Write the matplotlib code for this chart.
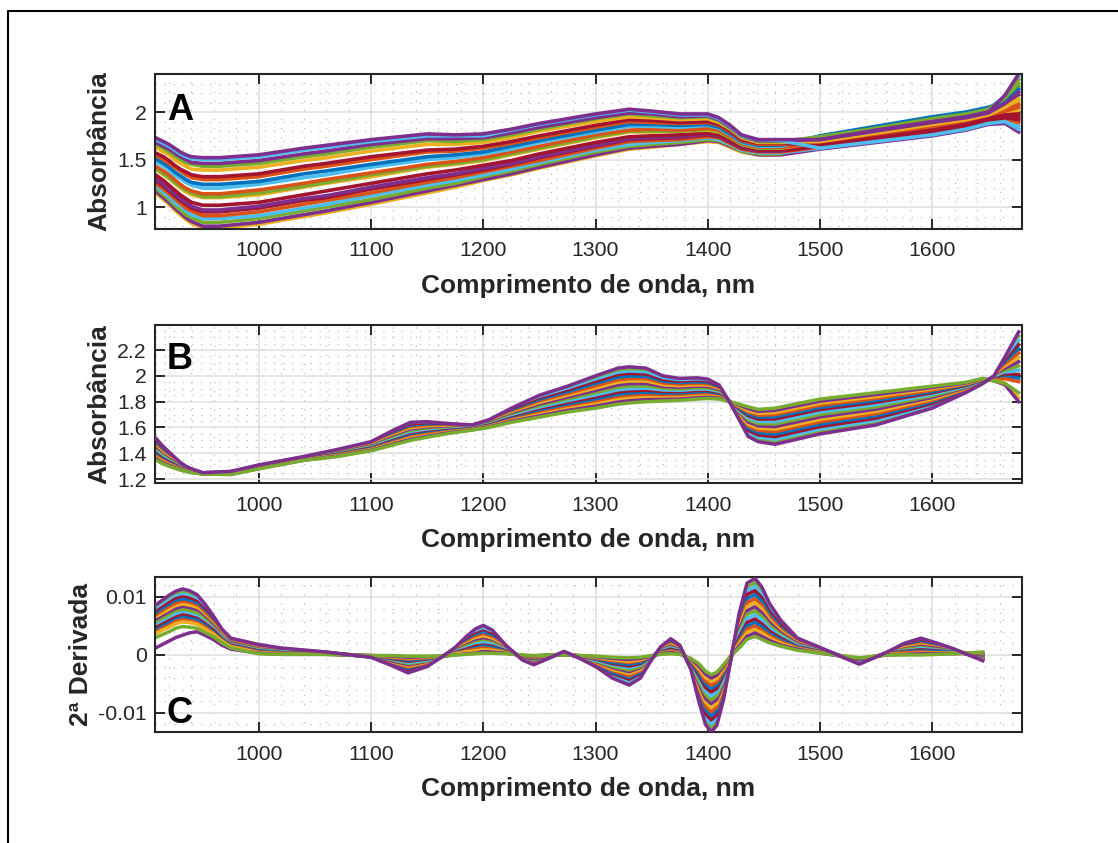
import numpy as np
import matplotlib
matplotlib.use("Agg")
import matplotlib.pyplot as plt
from matplotlib.lines import Line2D
from matplotlib.ticker import MultipleLocator, FixedLocator

plt.rcParams['font.family'] = ['Liberation Sans', 'DejaVu Sans']

# colours of the plot
blue = "#0072BD"
orange = "#D95319"
yellow = "#EDB120"
purple = "#7E2F8E"
green = "#77AC30"
lightblue = "#4DBEEE"
red = "#A2142F"

# panel A, one row per wavelength, one column per spectrum
# --------------------------------------------------------
nm_a = [908, 915, 920, 925, 930, 935, 940, 950, 965, 1000, 1040, 1060, 1100, 1150, 1175, 1200, 1225, 1250,
        1300, 1330, 1350, 1375, 1400, 1410, 1420, 1430, 1445, 1465, 1500, 1550, 1600, 1630, 1650, 1665, 1677]
spectra_a = [
    [1.73, 1.71, 1.68, 1.66, 1.63, 1.57, 1.55, 1.51, 1.48, 1.43, 1.41, 1.40, 1.34, 1.30, 1.28, 1.25, 1.23, 1.20, 1.17, 1.15],
    [1.69, 1.67, 1.64, 1.62, 1.58, 1.53, 1.50, 1.46, 1.43, 1.38, 1.35, 1.34, 1.28, 1.24, 1.22, 1.19, 1.16, 1.13, 1.10, 1.08],
    [1.66, 1.64, 1.61, 1.58, 1.55, 1.49, 1.46, 1.42, 1.39, 1.34, 1.31, 1.30, 1.23, 1.19, 1.17, 1.14, 1.11, 1.08, 1.05, 1.03],
    [1.62, 1.60, 1.57, 1.54, 1.50, 1.44, 1.42, 1.37, 1.34, 1.29, 1.26, 1.25, 1.18, 1.14, 1.12, 1.09, 1.05, 1.02, 0.99, 0.97],
    [1.58, 1.56, 1.53, 1.50, 1.46, 1.40, 1.38, 1.33, 1.30, 1.24, 1.22, 1.20, 1.13, 1.09, 1.07, 1.04, 1.01, 0.97, 0.94, 0.92],
    [1.55, 1.53, 1.50, 1.47, 1.43, 1.37, 1.34, 1.29, 1.26, 1.20, 1.18, 1.16, 1.09, 1.05, 1.03, 0.99, 0.96, 0.92, 0.89, 0.87],
    [1.53, 1.51, 1.47, 1.45, 1.40, 1.34, 1.31, 1.26, 1.23, 1.17, 1.15, 1.13, 1.05, 1.01, 0.99, 0.96, 0.92, 0.89, 0.85, 0.83],
    [1.52, 1.50, 1.46, 1.43, 1.39, 1.32, 1.29, 1.24, 1.20, 1.14, 1.11, 1.10, 1.02, 0.97, 0.95, 0.91, 0.88, 0.84, 0.80, 0.78],
    [1.52, 1.50, 1.46, 1.43, 1.39, 1.32, 1.29, 1.24, 1.20, 1.14, 1.11, 1.10, 1.02, 0.97, 0.95, 0.91, 0.88, 0.84, 0.80, 0.78],
    [1.55, 1.53, 1.49, 1.46, 1.42, 1.35, 1.32, 1.27, 1.24, 1.18, 1.15, 1.13, 1.05, 1.01, 0.99, 0.95, 0.91, 0.88, 0.84, 0.82],
    [1.62, 1.60, 1.56, 1.53, 1.49, 1.43, 1.40, 1.35, 1.31, 1.25, 1.22, 1.21, 1.13, 1.09, 1.07, 1.03, 0.99, 0.96, 0.92, 0.90],
    [1.65, 1.63, 1.59, 1.56, 1.52, 1.46, 1.43, 1.38, 1.34, 1.29, 1.26, 1.25, 1.17, 1.12, 1.10, 1.07, 1.03, 1.00, 0.96, 0.94],
    [1.71, 1.69, 1.66, 1.63, 1.59, 1.53, 1.50, 1.45, 1.42, 1.36, 1.34, 1.32, 1.25, 1.21, 1.19, 1.15, 1.12, 1.08, 1.05, 1.03],
    [1.77, 1.75, 1.72, 1.70, 1.66, 1.60, 1.58, 1.53, 1.50, 1.45, 1.43, 1.42, 1.35, 1.31, 1.29, 1.26, 1.23, 1.20, 1.17, 1.15],
    [1.76, 1.75, 1.72, 1.69, 1.66, 1.61, 1.59, 1.55, 1.52, 1.48, 1.46, 1.45, 1.39, 1.35, 1.34, 1.31, 1.28, 1.25, 1.23, 1.21],
    [1.77, 1.75, 1.73, 1.71, 1.68, 1.64, 1.62, 1.58, 1.56, 1.52, 1.50, 1.49, 1.44, 1.41, 1.39, 1.37, 1.34, 1.32, 1.29, 1.28],
    [1.82, 1.81, 1.78, 1.76, 1.73, 1.69, 1.67, 1.64, 1.61, 1.58, 1.56, 1.55, 1.49, 1.46, 1.45, 1.43, 1.40, 1.38, 1.35, 1.34],
    [1.88, 1.87, 1.84, 1.82, 1.80, 1.75, 1.73, 1.70, 1.68, 1.64, 1.62, 1.61, 1.56, 1.53, 1.52, 1.49, 1.47, 1.45, 1.42, 1.41],
    [1.98, 1.97, 1.94, 1.93, 1.90, 1.86, 1.84, 1.81, 1.79, 1.76, 1.74, 1.73, 1.68, 1.65, 1.64, 1.62, 1.60, 1.58, 1.55, 1.54],
    [2.03, 2.02, 1.99, 1.98, 1.95, 1.92, 1.90, 1.87, 1.85, 1.81, 1.80, 1.79, 1.74, 1.72, 1.71, 1.69, 1.66, 1.64, 1.62, 1.61],
    [2.01, 2.00, 1.98, 1.96, 1.94, 1.91, 1.89, 1.87, 1.85, 1.82, 1.80, 1.79, 1.75, 1.73, 1.72, 1.70, 1.68, 1.66, 1.64, 1.63],
    [1.98, 1.97, 1.95, 1.94, 1.92, 1.89, 1.88, 1.86, 1.84, 1.81, 1.80, 1.80, 1.76, 1.74, 1.73, 1.71, 1.70, 1.68, 1.66, 1.66],
    [1.98, 1.97, 1.96, 1.95, 1.93, 1.90, 1.89, 1.87, 1.86, 1.83, 1.82, 1.81, 1.78, 1.77, 1.76, 1.74, 1.73, 1.71, 1.70, 1.69],
    [1.94, 1.93, 1.92, 1.91, 1.89, 1.87, 1.86, 1.84, 1.83, 1.81, 1.80, 1.79, 1.76, 1.75, 1.74, 1.73, 1.71, 1.70, 1.69, 1.68],
    [1.86, 1.85, 1.84, 1.83, 1.82, 1.80, 1.79, 1.77, 1.76, 1.74, 1.73, 1.73, 1.70, 1.69, 1.68, 1.67, 1.66, 1.65, 1.64, 1.63],
    [1.76, 1.75, 1.75, 1.74, 1.73, 1.71, 1.70, 1.69, 1.68, 1.67, 1.66, 1.66, 1.64, 1.63, 1.62, 1.61, 1.60, 1.59, 1.59, 1.58],
    [1.71, 1.71, 1.70, 1.69, 1.68, 1.67, 1.66, 1.65, 1.64, 1.63, 1.62, 1.62, 1.60, 1.59, 1.59, 1.58, 1.57, 1.56, 1.55, 1.55],
    [1.71, 1.70, 1.70, 1.69, 1.68, 1.67, 1.66, 1.65, 1.64, 1.63, 1.62, 1.62, 1.60, 1.59, 1.59, 1.58, 1.57, 1.56, 1.55, 1.55],
    [1.71, 1.62, 1.71, 1.74, 1.69, 1.65, 1.68, 1.75, 1.74, 1.67, 1.73, 1.68, 1.65, 1.70, 1.64, 1.63, 1.62, 1.72, 1.61, 1.66],
    [1.81, 1.69, 1.80, 1.83, 1.78, 1.73, 1.76, 1.85, 1.84, 1.75, 1.82, 1.77, 1.72, 1.79, 1.72, 1.71, 1.70, 1.81, 1.68, 1.74],
    [1.90, 1.76, 1.89, 1.93, 1.87, 1.81, 1.84, 1.95, 1.94, 1.83, 1.92, 1.86, 1.80, 1.88, 1.79, 1.78, 1.77, 1.91, 1.75, 1.82],
    [1.95, 1.82, 1.94, 1.98, 1.92, 1.87, 1.90, 2.00, 1.99, 1.89, 1.97, 1.91, 1.86, 1.93, 1.85, 1.84, 1.83, 1.96, 1.81, 1.88],
    [2.00, 1.88, 1.99, 2.03, 1.97, 1.93, 1.96, 2.05, 2.04, 1.95, 2.02, 1.96, 1.92, 1.98, 1.91, 1.90, 1.89, 2.01, 1.87, 1.94],
    [2.18, 1.90, 2.09, 2.15, 2.05, 1.97, 2.02, 2.10, 2.16, 2.01, 2.13, 2.04, 1.96, 2.07, 1.94, 1.93, 1.91, 2.12, 1.88, 1.99],
    [2.40, 1.82, 2.21, 2.34, 2.14, 1.98, 2.08, 2.24, 2.37, 2.05, 2.30, 2.11, 1.95, 2.18, 1.92, 1.89, 1.85, 2.27, 1.79, 2.01],
]
colors_a = [purple, lightblue, purple, green, yellow, red, orange, blue, lightblue, orange,
            green, yellow, red, purple, red, orange, lightblue, green, purple, yellow]

# panel B, absorbance x 1000, one row per wavelength
# --------------------------------------------------
nm_b = [908, 914, 920, 925, 930, 935, 940, 950, 975, 1000, 1040, 1070, 1100, 1120, 1135, 1150, 1170, 1190,
        1205, 1225, 1250, 1275, 1300, 1320, 1330, 1345, 1360, 1375, 1390, 1400, 1410, 1420, 1428, 1436, 1445,
        1460, 1500, 1550, 1600, 1630, 1645, 1655, 1665, 1677]
spectra_b = [
    [1520, 1508, 1496, 1484, 1472, 1461, 1449, 1437, 1425, 1413, 1401, 1391, 1381, 1370, 1360, 1350],
    [1460, 1450, 1440, 1431, 1421, 1411, 1401, 1391, 1382, 1372, 1362, 1354, 1345, 1337, 1328, 1320],
    [1410, 1402, 1395, 1387, 1379, 1372, 1364, 1356, 1348, 1341, 1333, 1326, 1320, 1313, 1307, 1300],
    [1370, 1364, 1358, 1352, 1346, 1340, 1334, 1328, 1322, 1316, 1311, 1305, 1300, 1295, 1290, 1285],
    [1330, 1326, 1322, 1317, 1313, 1309, 1305, 1301, 1296, 1292, 1288, 1284, 1281, 1277, 1274, 1270],
    [1300, 1297, 1294, 1292, 1289, 1286, 1283, 1280, 1278, 1275, 1272, 1270, 1267, 1265, 1262, 1260],
    [1280, 1278, 1276, 1274, 1272, 1270, 1267, 1265, 1263, 1261, 1259, 1257, 1255, 1254, 1252, 1250],
    [1250, 1249, 1249, 1248, 1247, 1247, 1246, 1245, 1244, 1244, 1243, 1242, 1242, 1241, 1241, 1240],
    [1260, 1258, 1257, 1255, 1253, 1251, 1250, 1248, 1246, 1244, 1243, 1241, 1240, 1238, 1237, 1235],
    [1310, 1308, 1306, 1304, 1302, 1300, 1297, 1295, 1293, 1291, 1289, 1287, 1285, 1284, 1282, 1280],
    [1375, 1373, 1371, 1369, 1367, 1365, 1362, 1360, 1358, 1356, 1354, 1352, 1350, 1349, 1347, 1345],
    [1430, 1426, 1422, 1418, 1415, 1411, 1407, 1403, 1399, 1395, 1392, 1388, 1385, 1382, 1378, 1375],
    [1490, 1485, 1480, 1475, 1470, 1466, 1461, 1456, 1451, 1446, 1441, 1437, 1433, 1428, 1424, 1420],
    [1580, 1572, 1564, 1556, 1548, 1540, 1532, 1524, 1516, 1508, 1500, 1493, 1486, 1479, 1472, 1465],
    [1640, 1630, 1620, 1611, 1601, 1591, 1581, 1571, 1562, 1552, 1542, 1534, 1525, 1517, 1508, 1500],
    [1645, 1637, 1628, 1620, 1611, 1603, 1595, 1586, 1578, 1569, 1561, 1554, 1547, 1539, 1532, 1525],
    [1630, 1625, 1620, 1614, 1609, 1604, 1599, 1593, 1588, 1583, 1578, 1573, 1569, 1564, 1560, 1555],
    [1620, 1617, 1614, 1612, 1609, 1606, 1603, 1600, 1598, 1595, 1592, 1590, 1587, 1585, 1582, 1580],
    [1660, 1656, 1652, 1647, 1643, 1639, 1635, 1631, 1626, 1622, 1618, 1614, 1611, 1607, 1604, 1600],
    [1750, 1742, 1735, 1727, 1719, 1712, 1704, 1696, 1688, 1681, 1673, 1666, 1660, 1653, 1647, 1640],
    [1850, 1838, 1826, 1814, 1802, 1791, 1779, 1767, 1755, 1743, 1731, 1721, 1711, 1700, 1690, 1680],
    [1920, 1906, 1892, 1878, 1864, 1850, 1836, 1822, 1808, 1794, 1780, 1768, 1756, 1744, 1732, 1720],
    [2000, 1983, 1965, 1948, 1930, 1913, 1895, 1878, 1860, 1843, 1825, 1810, 1795, 1780, 1765, 1750],
    [2060, 2040, 2021, 2001, 1982, 1962, 1942, 1923, 1903, 1884, 1864, 1847, 1830, 1814, 1797, 1780],
    [2070, 2050, 2031, 2011, 1992, 1972, 1952, 1933, 1913, 1894, 1874, 1857, 1840, 1824, 1807, 1790],
    [2060, 2042, 2024, 2005, 1987, 1969, 1951, 1933, 1914, 1896, 1878, 1862, 1847, 1831, 1816, 1800],
    [2000, 1986, 1973, 1959, 1945, 1932, 1918, 1904, 1891, 1877, 1864, 1852, 1840, 1828, 1817, 1805],
    [1980, 1968, 1956, 1944, 1932, 1921, 1909, 1897, 1885, 1873, 1861, 1851, 1841, 1830, 1820, 1810],
    [1985, 1973, 1962, 1950, 1939, 1927, 1916, 1904, 1893, 1881, 1870, 1860, 1850, 1840, 1830, 1820],
    [1975, 1965, 1954, 1944, 1933, 1923, 1912, 1902, 1891, 1881, 1870, 1861, 1852, 1843, 1834, 1825],
    [1930, 1922, 1915, 1907, 1899, 1892, 1884, 1876, 1868, 1861, 1853, 1846, 1840, 1833, 1827, 1820],
    [1790, 1791, 1791, 1792, 1793, 1793, 1794, 1795, 1796, 1796, 1797, 1798, 1798, 1799, 1799, 1800],
    [1660, 1668, 1677, 1685, 1694, 1702, 1710, 1719, 1727, 1736, 1744, 1751, 1758, 1766, 1773, 1780],
    [1530, 1546, 1562, 1578, 1594, 1610, 1627, 1643, 1659, 1675, 1691, 1705, 1719, 1732, 1746, 1760],
    [1490, 1507, 1525, 1542, 1560, 1577, 1595, 1612, 1630, 1647, 1665, 1680, 1695, 1710, 1725, 1740],
    [1470, 1490, 1509, 1529, 1548, 1568, 1588, 1607, 1627, 1646, 1666, 1683, 1700, 1716, 1733, 1750],
    [1550, 1569, 1588, 1607, 1626, 1644, 1663, 1682, 1701, 1720, 1739, 1755, 1771, 1788, 1804, 1820],
    [1620, 1637, 1655, 1672, 1690, 1707, 1725, 1742, 1760, 1777, 1795, 1810, 1825, 1840, 1855, 1870],
    [1750, 1762, 1774, 1786, 1798, 1809, 1821, 1833, 1845, 1857, 1869, 1879, 1889, 1900, 1910, 1920],
    [1870, 1876, 1881, 1887, 1892, 1898, 1904, 1909, 1915, 1920, 1926, 1931, 1936, 1940, 1945, 1950],
    [1940, 1943, 1946, 1948, 1951, 1954, 1957, 1960, 1962, 1965, 1968, 1970, 1973, 1975, 1978, 1980],
    [2000, 1997, 1994, 1992, 1989, 1986, 1983, 1980, 1978, 1975, 1972, 1970, 1967, 1965, 1962, 1960],
    [2150, 2135, 2121, 2106, 2091, 2077, 2062, 2047, 2032, 2018, 2003, 1990, 1978, 1945, 1930, 1940],
    [2340, 2307, 2274, 2241, 2208, 2176, 2143, 2110, 2077, 2044, 2011, 1983, 1955, 1830, 1800, 1870],
]

# panel C, second derivative x 1e4, one row per wavelength
# --------------------------------------------------------
nm_c = [908, 920, 926, 932, 938, 945, 952, 960, 967, 975, 1000, 1020, 1060, 1100, 1118, 1133, 1150, 1165, 1175,
        1185, 1193, 1200, 1208, 1220, 1235, 1245, 1258, 1272, 1285, 1300, 1315, 1330, 1340, 1350, 1358, 1367,
        1375, 1385, 1392, 1398, 1403, 1408, 1414, 1420, 1428, 1435, 1442, 1448, 1455, 1465, 1480, 1500, 1535,
        1560, 1575, 1590, 1605, 1620, 1645]
spectra_c = [
    [86, 82, 78, 74, 70, 66, 62, 59, 55, 51, 47, 43, 40, 37, 12, 30],
    [103, 99, 94, 90, 85, 81, 77, 72, 68, 63, 59, 55, 51, 48, 24, 40],
    [110, 106, 101, 97, 92, 88, 83, 79, 74, 70, 65, 61, 58, 54, 30, 46],
    [114, 109, 105, 100, 96, 91, 87, 82, 78, 73, 69, 65, 61, 57, 34, 49],
    [111, 107, 102, 98, 93, 89, 85, 80, 76, 71, 67, 63, 59, 56, 38, 48],
    [104, 100, 96, 92, 88, 84, 80, 76, 72, 67, 63, 60, 56, 53, 40, 46],
    [88, 85, 81, 78, 74, 71, 67, 64, 61, 57, 54, 51, 48, 45, 34, 39],
    [66, 64, 61, 59, 56, 54, 51, 49, 46, 44, 42, 39, 37, 35, 26, 31],
    [45, 43, 42, 40, 38, 37, 35, 33, 32, 30, 28, 27, 25, 24, 17, 21],
    [29, 28, 27, 25, 24, 23, 22, 21, 19, 18, 17, 16, 15, 14, 10, 12],
    [18, 17, 16, 15, 14, 12, 11, 10, 9, 8, 7, 6, 5, 4, 3, 2],
    [12, 11, 10, 10, 9, 8, 7, 7, 6, 5, 4, 4, 3, 2, 1, 1],
    [5, 5, 4, 4, 4, 4, 3, 3, 3, 2, 2, 2, 2, 1, 1, 1],
    [-4, -4, -4, -3, -3, -3, -3, -3, -2, -2, -2, -2, -2, -1, -1, -1],
    [-18, -17, -16, -14, -13, -12, -11, -10, -8, -7, -6, -5, -4, -3, -2, -1],
    [-31, -29, -27, -25, -23, -21, -19, -17, -15, -13, -11, -9, -7, -5, -4, -2],
    [-20, -19, -17, -16, -15, -14, -12, -11, -10, -9, -7, -6, -5, -4, -3, -2],
    [-1, -1, -1, -1, -1, -1, -1, -1, -2, -2, -2, -2, -2, -2, -2, -2],
    [13, 12, 11, 10, 9, 8, 8, 7, 6, 5, 4, 3, 2, 2, 0, 0],
    [32, 30, 28, 25, 23, 21, 19, 17, 15, 12, 10, 8, 7, 5, 2, 1],
    [45, 42, 39, 36, 33, 30, 27, 24, 21, 18, 15, 12, 10, 7, 3, 2],
    [51, 48, 44, 41, 38, 34, 31, 27, 24, 21, 17, 15, 12, 9, 6, 3],
    [43, 40, 37, 35, 32, 29, 26, 23, 21, 18, 15, 13, 10, 8, 5, 3],
    [17, 16, 15, 14, 13, 12, 11, 10, 9, 8, 7, 6, 5, 4, 3, 2],
    [-9, -8, -8, -7, -6, -6, -5, -5, -4, -3, -3, -2, -2, -1, -1, 0],
    [-17, -16, -15, -14, -13, -11, -10, -9, -8, -7, -6, -5, -4, -3, -2, -1],
    [-6, -6, -5, -5, -4, -4, -3, -3, -3, -2, -2, -1, -1, -1, 0, 0],
    [6, 6, 5, 5, 4, 4, 3, 3, 3, 2, 2, 1, 1, 1, 0, 0],
    [-5, -5, -4, -4, -4, -4, -3, -3, -3, -2, -2, -2, -2, -1, -1, -1],
    [-20, -19, -17, -16, -15, -14, -12, -11, -10, -9, -7, -6, -5, -4, -3, -2],
    [-40, -37, -35, -32, -30, -27, -25, -22, -20, -17, -15, -13, -10, -8, -6, -4],
    [-52, -49, -45, -42, -39, -36, -32, -29, -26, -22, -19, -16, -13, -11, -8, -5],
    [-40, -37, -35, -32, -30, -27, -25, -22, -20, -17, -15, -13, -10, -8, -6, -4],
    [-8, -8, -7, -7, -6, -6, -5, -5, -4, -4, -3, -3, -2, -2, -2, -1],
    [14, 13, 12, 11, 10, 9, 9, 8, 7, 6, 5, 4, 3, 3, 2, 1],
    [28, 26, 24, 23, 21, 19, 17, 15, 13, 12, 10, 8, 7, 5, 4, 2],
    [17, 16, 15, 14, 13, 11, 10, 9, 8, 7, 6, 5, 4, 3, 2, 1],
    [-25, -24, -22, -21, -20, -18, -17, -16, -14, -13, -12, -11, -9, -8, -7, -6],
    [-80, -75, -71, -66, -62, -57, -53, -48, -44, -39, -35, -31, -27, -23, -19, -15],
    [-120, -114, -107, -101, -94, -88, -81, -75, -68, -62, -56, -50, -45, -39, -33, -28],
    [-133, -126, -119, -112, -105, -98, -91, -84, -78, -71, -64, -58, -52, -46, -40, -34],
    [-122, -116, -109, -103, -96, -90, -83, -77, -70, -64, -58, -52, -47, -41, -35, -30],
    [-78, -74, -69, -65, -61, -57, -52, -48, -44, -40, -35, -32, -28, -24, -20, -17],
    [-14, -13, -12, -12, -11, -10, -9, -9, -8, -7, -6, -6, -5, -4, -3, -3],
    [72, 68, 64, 59, 55, 51, 47, 43, 38, 34, 30, 26, 23, 19, 15, 12],
    [124, 117, 110, 104, 97, 90, 83, 76, 70, 63, 56, 50, 44, 39, 32, 27],
    [132, 125, 118, 111, 104, 97, 90, 83, 76, 69, 62, 56, 50, 44, 38, 32],
    [118, 112, 105, 99, 93, 86, 80, 73, 67, 61, 54, 49, 43, 38, 32, 27],
    [89, 84, 79, 75, 70, 65, 60, 56, 51, 46, 41, 37, 33, 29, 25, 21],
    [60, 57, 54, 51, 47, 44, 41, 38, 35, 32, 29, 26, 23, 20, 17, 15],
    [29, 28, 26, 25, 23, 22, 20, 19, 17, 16, 14, 13, 12, 11, 10, 8],
    [13, 12, 12, 11, 10, 10, 9, 8, 7, 7, 6, 5, 5, 4, 3, 3],
    [-16, -15, -14, -14, -13, -12, -11, -11, -10, -9, -8, -8, -7, -6, -6, -5],
    [5, 5, 4, 4, 4, 3, 3, 3, 2, 2, 2, 1, 1, 1, 0, 0],
    [20, 19, 17, 16, 14, 13, 12, 10, 9, 7, 6, 5, 4, 2, 1, 0],
    [29, 27, 25, 23, 21, 19, 17, 15, 13, 11, 9, 7, 5, 3, 2, 0],
    [20, 19, 17, 16, 15, 13, 12, 11, 9, 8, 7, 6, 4, 3, 2, 1],
    [10, 9, 9, 8, 8, 7, 7, 6, 6, 5, 4, 4, 3, 3, 2, 2],
    [-10, -9, -8, -7, -6, -5, -4, -3, -2, -1, 0, 1, 2, 3, 4, 5],
]

# same colour order for B and C, from the outer line to the inner one
colors_bc = [purple, green, lightblue, red, blue, orange, yellow, purple, green, lightblue, red, blue, orange, yellow, purple, green]

xticks = [1000, 1100, 1200, 1300, 1400, 1500, 1600]
yticks_a = [1, 1.5, 2]
yticklabels_a = ["1", "1.5", "2"]
yticks_b = [1.2, 1.4, 1.6, 1.8, 2.0, 2.2]
yticklabels_b = ["1.2", "1.4", "1.6", "1.8", "2", "2.2"]
yticks_c = [-0.01, 0, 0.01]
yticklabels_c = ["-0.01", "0", "0.01"]

W, H = 1118, 843
DARK = "#262626"


def make_axes(top, bottom, ylim, yticks, yticklabels, yminor, ylabel, ylabel_x, letter, letter_y):
    ax = fig.add_axes([155 / W, 1 - bottom / H, (1022 - 155) / W, (bottom - top) / H])
    ax.set_xlim(907.5, 1680)
    ax.set_ylim(*ylim)
    ax.xaxis.set_major_locator(FixedLocator(xticks))
    ax.xaxis.set_minor_locator(MultipleLocator(20))
    ax.set_yticks(yticks)
    ax.set_yticklabels(yticklabels)
    ax.yaxis.set_minor_locator(MultipleLocator(yminor))
    ax.set_axisbelow(True)
    ax.grid(which="major", color="#dedede", linewidth=1.1)
    ax.grid(which="minor", color="#bdbdbd", linewidth=0.8, linestyle=(0, (1.2, 7)))
    ax.tick_params(which="major", direction="in", length=7, width=1.4, top=True, right=True,
                   labelsize=15.3, colors=DARK, pad=9)
    ax.tick_params(axis="y", which="major", pad=6)
    ax.tick_params(which="minor", length=0)
    for spine in ax.spines.values():
        spine.set_linewidth(1.5)
        spine.set_color(DARK)
    ax.set_xlabel("Comprimento de onda, nm", fontsize=19, fontweight="bold", color=DARK)
    ax.xaxis.set_label_coords(0.5, -45 / (bottom - top))
    ax.set_ylabel(ylabel, fontsize=19, fontweight="bold", color=DARK)
    ax.yaxis.set_label_coords((ylabel_x - 155) / (1022 - 155), 0.5)
    ax.text(918, letter_y, letter, fontsize=26, fontweight="bold", color="black", va="baseline", zorder=5)
    return ax


fig = plt.figure(figsize=(W / 100, H / 100), dpi=100)

ax1 = make_axes(74, 229, (0.77, 2.4), yticks_a, yticklabels_a, 0.1, "Absorbância", 111, "A", 1.916)
for row, color in reversed(list(zip(np.array(spectra_a).T, colors_a))):
    ax1.plot(nm_a, row, color=color, linewidth=2.6)

ax2 = make_axes(325, 483, (1.17, 2.394), yticks_b, yticklabels_b, 0.05, "Absorbância", 111, "B", 2.05)
for i, (row, color) in enumerate(zip(np.array(spectra_b).T / 1000, colors_bc)):
    # the outer purple line stays visible above the others
    ax2.plot(nm_b, row, color=color, linewidth=2.5, zorder=3 if i == 0 else 2)

ax3 = make_axes(577, 732, (-0.0133, 0.01345), yticks_c, yticklabels_c, 0.002, "2ª Derivada", 93, "C", -0.0117)
for i, (row, color) in enumerate(zip(np.array(spectra_c).T * 1e-4, colors_bc)):
    ax3.plot(nm_c, row, color=color, linewidth=2.5, zorder=3 if i == 0 else 2)

# black frame around the figure, open at the right and at the bottom
fig.add_artist(Line2D([8 / W, 8 / W, 1], [0, 1 - 11 / H, 1 - 11 / H], color="black", linewidth=1.5))

fig.savefig("out.png", dpi=100)
